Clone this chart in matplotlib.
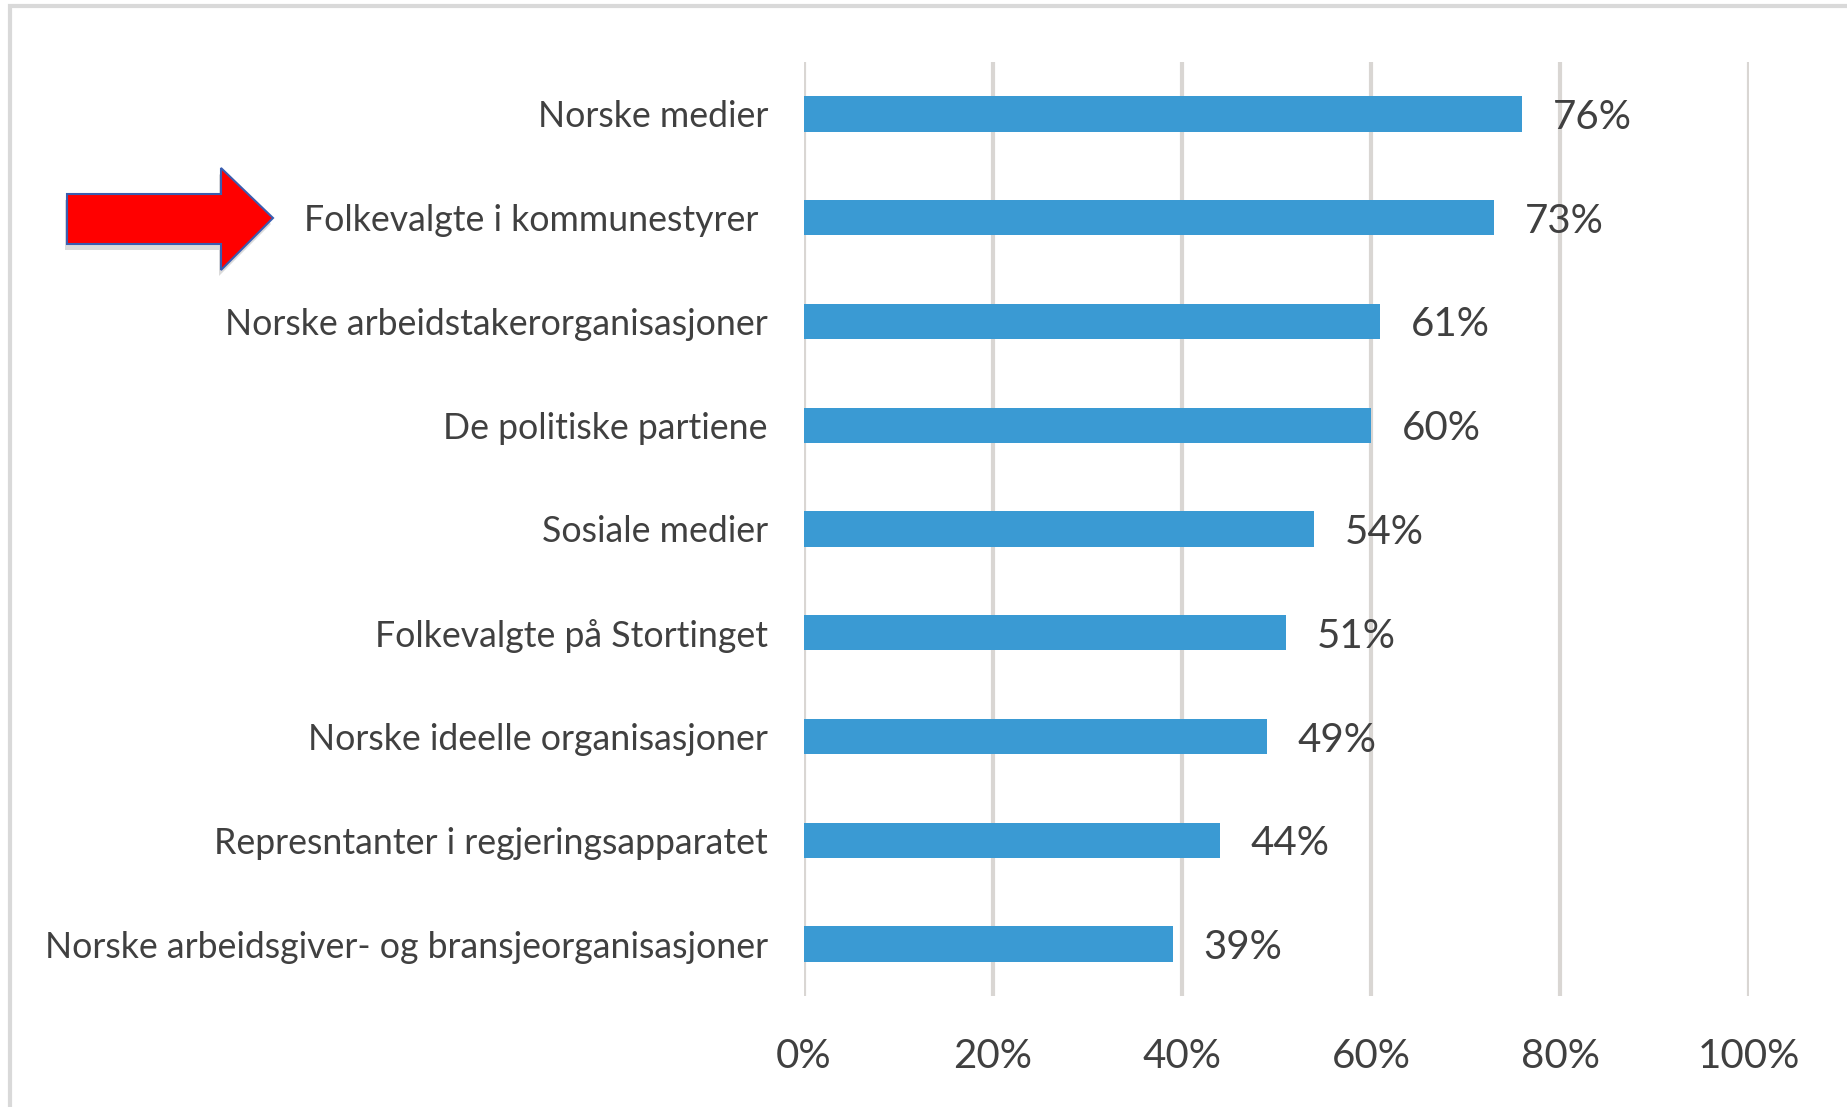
import matplotlib.pyplot as plt
from matplotlib.patches import Polygon, Rectangle

# -------------------------------
# DATA
# -------------------------------
categories = [
    "Norske medier",
    "Folkevalgte i kommunestyrer ",
    "Norske arbeidstakerorganisasjoner",
    "De politiske partiene",
    "Sosiale medier",
    "Folkevalgte på Stortinget",
    "Norske ideelle organisasjoner",
    "Represntanter i regjeringsapparatet",
    "Norske arbeidsgiver- og bransjeorganisasjoner",
]
values = [76, 73, 61, 60, 54, 51, 49, 44, 39]
xticks = [0, 20, 40, 60, 80, 100]

W, H = 1847, 1107
plt.rcParams["font.family"] = ["Lato", "DejaVu Sans"]
text_color = "#404040"
grid_color = "#D9D6D3"
bar_color = "#3A9AD3"

fig = plt.figure(figsize=(W / 100, H / 100), dpi=100)
ax = fig.add_axes([804 / W, 1 - 996 / H, (1749 - 804) / W, (996 - 62) / H])

# -------------------------------
# BARS
# -------------------------------
ypos = list(range(len(categories)))
ax.barh(ypos, values, height=0.34, color=bar_color, zorder=3)
for y, v in zip(ypos, values):
    ax.annotate(f"{v}%", (v, y), xytext=(22, 0), textcoords="offset points",
                va="center_baseline", ha="left", fontsize=29, color=text_color)

ax.set_xlim(0, 100)
ax.set_ylim(len(categories) - 0.5, -0.5)
ax.set_yticks(ypos)
ax.set_yticklabels(categories, fontsize=25.7, color=text_color)
ax.set_xticks(xticks)
ax.set_xticklabels([f"{t}%" for t in xticks], fontsize=29, color=text_color)
ax.tick_params(axis="y", length=0, pad=26)
ax.tick_params(axis="x", length=0, pad=30)

for t in xticks:
    ax.axvline(t, color=grid_color, lw=3, zorder=1)
for s in ax.spines.values():
    s.set_visible(False)

# -------------------------------
# ARROW + BORDER
# -------------------------------
def to_fig(pts):
    return [(x / W, 1 - y / H) for x, y in pts]

arrow = [(67, 194), (221, 194), (221, 168), (273, 218), (221, 270), (221, 244), (67, 244)]
shadow = [(x - 2, y + 6) for x, y in arrow]
fig.patches.append(Polygon(to_fig(shadow), closed=True, transform=fig.transFigure,
                           facecolor="#999999", edgecolor="none", alpha=0.35))
fig.patches.append(Polygon(to_fig(arrow), closed=True, transform=fig.transFigure,
                           facecolor="#FF0000", edgecolor="#3A5DB0", lw=1.5))

fig.patches.append(Rectangle((10 / W, -0.1), 1.2, 1 - 6 / H + 0.1, transform=fig.transFigure,
                             facecolor="none", edgecolor="#D9D9D9", lw=3))

fig.savefig("out.png", dpi=100)
